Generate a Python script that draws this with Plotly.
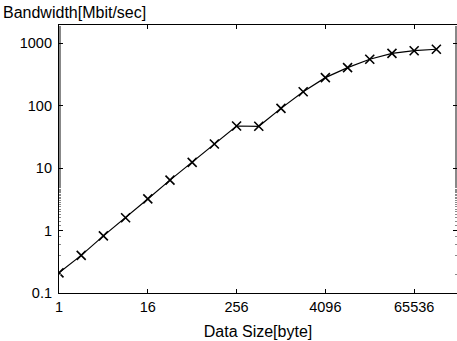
import math
import plotly.graph_objects as go

data_size = [1, 2, 4, 8, 16, 32, 64, 128, 256, 512, 1024, 2048, 4096, 8192, 16384, 32768, 65536, 131072]
bandwidth = [0.21, 0.40, 0.82, 1.6, 3.2, 6.4, 12.3, 24.2, 47, 46.5, 90, 166, 279, 403, 549, 684, 753, 794]
x_tickvals = [1, 16, 256, 4096, 65536]
x_ticktext = ["1", "16", "256", "4096", "65536"]
y_tickvals = [0.1, 1, 10, 100, 1000]
y_ticktext = ["0.1", "1", "10", "100", "1000"]

W, H = 457, 341
L, R, T, B = 59, 0, 25, 48

fig = go.Figure()
fig.add_trace(go.Scatter(
    x=data_size, y=bandwidth, mode="lines+markers",
    line=dict(color="black", width=1.2),
    marker=dict(symbol="x-thin-open", size=9, color="black",
                line=dict(color="black", width=1.6)),
    showlegend=False,
))

tick_font = dict(family="Liberation Sans, Arial, sans-serif", size=14.5, color="black")
title_font = dict(family="Liberation Sans, Arial, sans-serif", size=16, color="black")

fig.update_layout(
    width=W, height=H,
    margin=dict(l=L, r=R, t=T, b=B, pad=0, autoexpand=False),
    paper_bgcolor="white", plot_bgcolor="white",
    font=tick_font,
    xaxis=dict(
        type="log", automargin=False,
        range=[0, math.log10(2) * 17.93],
        tickvals=x_tickvals, ticktext=x_ticktext, tickfont=tick_font,
        ticks="inside", ticklen=4, tickwidth=1, tickcolor="black",
        showline=True, linecolor="black", linewidth=1.2, mirror="ticks",
        showgrid=False, zeroline=False,
        title=dict(text="Data Size[byte]", font=title_font, standoff=12),
    ),
    yaxis=dict(
        type="log", automargin=False,
        range=[-1, 3.288],
        tickvals=y_tickvals, ticktext=y_ticktext, tickfont=tick_font,
        ticks="inside", ticklen=4, tickwidth=1, tickcolor="black",
        ticklabelstandoff=3,
        showline=True, linecolor="black", linewidth=1.2, mirror="ticks",
        showgrid=False, zeroline=False,
        minor=dict(ticks="inside", ticklen=2, tickcolor="#888", showgrid=False),
    ),
    annotations=[dict(
        text="Bandwidth[Mbit/sec]", xref="paper", yref="paper",
        x=(1 - L) / (W - L - R), y=1, xanchor="left", yanchor="bottom",
        yshift=2, showarrow=False, font=title_font,
    )],
)

fig.write_html("out.html", config={"displayModeBar": False},
               post_script="document.body.style.margin='0';")
